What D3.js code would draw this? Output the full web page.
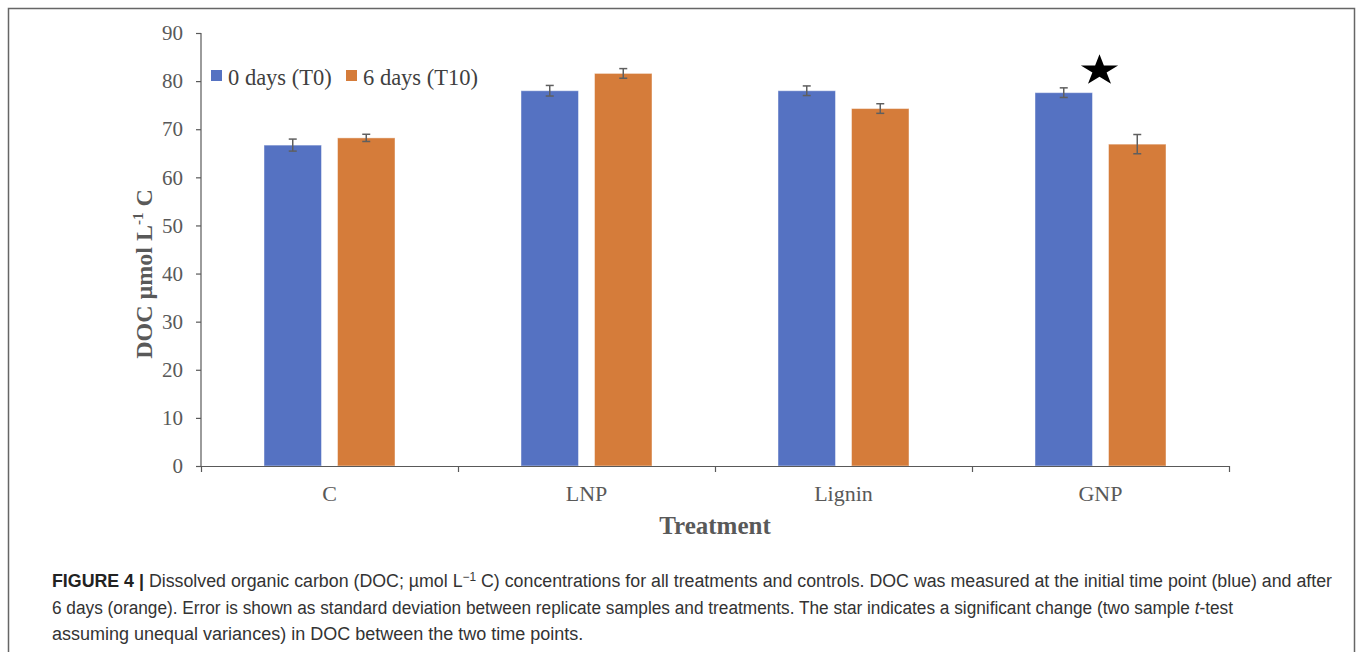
<!DOCTYPE html>
<head>
  <meta charset="utf-8">
  <script src="https://d3js.org/d3.v7.min.js"></script>
  <style>
    body { margin:0; background:white; }
    svg { display:block; }
    .tick text { font-family: "Liberation Serif", "Times New Roman", serif; font-size: 21px; fill: #595959; }
    .axis path, .axis line { stroke: #595959; stroke-width: 1.2; }
  </style>
</head>

<body>
  <script>
    // values
    var categories = ["C", "LNP", "Lignin", "GNP"];
    var seriesNames = ["0 days (T0)", "6 days (T10)"];
    var seriesColors = ["#5572c2", "#d57c3a"];
    var t0 = [66.7, 78.0, 78.0, 77.6];
    var t10 = [68.2, 81.6, 74.3, 66.9];
    var t0Err = [1.25, 1.1, 1.0, 1.0];
    var t10Err = [0.75, 1.0, 1.0, 2.0];
    var yTicks = [0, 10, 20, 30, 40, 50, 60, 70, 80, 90];
    var significant = ["GNP"];
    var starLevel = 82.2;

    var width = 1357, height = 652;
    var svg = d3.select("body").append("svg")
        .attr("width", width).attr("height", height);

    // frame around figure + caption
    svg.append("rect")
        .attr("x", 8.5).attr("y", 8.5)
        .attr("width", 1346).attr("height", 700)
        .attr("fill", "none").attr("stroke", "#666").attr("stroke-width", 1.5);

    var plotL = 201, plotR = 1229, plotT = 33, plotB = 466;

    var y = d3.scaleLinear().domain([0, 90]).range([plotB, plotT]);
    var x = d3.scaleBand().domain(categories).range([plotL, plotR]).padding(0);
    var xs = d3.scaleBand().domain([0, 1]).range([0, x.bandwidth()])
        .paddingInner(0.218).paddingOuter(0.857);
    var xEdge = d3.scaleLinear().domain([0, categories.length]).range([plotL, plotR]);

    var rows = categories.map(function(c, i) {
      return [
        {cat: c, s: 0, v: t0[i], e: t0Err[i]},
        {cat: c, s: 1, v: t10[i], e: t10Err[i]}
      ];
    });

    var groups = svg.selectAll("g.cat")
      .data(rows)
      .enter().append("g")
        .attr("class", "cat")
        .attr("transform", function(d) { return "translate(" + x(d[0].cat) + ",0)"; });

    groups.selectAll("rect")
      .data(function(d) { return d; })
      .enter().append("rect")
        .attr("x", function(d) { return xs(d.s); })
        .attr("width", xs.bandwidth())
        .attr("y", function(d) { return y(d.v); })
        .attr("height", function(d) { return y(0) - y(d.v); })
        .attr("fill", function(d) { return seriesColors[d.s]; })
        .attr("stroke", "rgba(255,255,255,0.45)")
        .attr("stroke-width", 1);

    // error bars
    var eb = groups.selectAll("g.err")
      .data(function(d) { return d; })
      .enter().append("g")
        .attr("class", "err")
        .attr("stroke", "#5f5f5f").attr("stroke-width", 1.5);
    eb.append("line")
        .attr("x1", function(d) { return xs(d.s) + xs.bandwidth() / 2; })
        .attr("x2", function(d) { return xs(d.s) + xs.bandwidth() / 2; })
        .attr("y1", function(d) { return y(d.v + d.e); })
        .attr("y2", function(d) { return y(d.v - d.e); });
    [1, -1].forEach(function(sg) {
      eb.append("line")
          .attr("x1", function(d) { return xs(d.s) + xs.bandwidth() / 2 - 4; })
          .attr("x2", function(d) { return xs(d.s) + xs.bandwidth() / 2 + 4; })
          .attr("y1", function(d) { return y(d.v + sg * d.e); })
          .attr("y2", function(d) { return y(d.v + sg * d.e); });
    });

    // axes
    svg.append("g")
        .attr("class", "axis")
        .attr("transform", "translate(" + plotL + ",0)")
        .call(d3.axisLeft(y).tickValues(yTicks).tickSize(5).tickSizeOuter(0).tickPadding(13))
        .call(function(g) { g.select(".domain").attr("d", "M0," + plotT + "V" + plotB); });

    svg.append("g")
        .attr("class", "axis")
        .attr("transform", "translate(0," + plotB + ")")
        .call(d3.axisBottom(xEdge).tickValues(d3.range(categories.length + 1))
          .tickFormat("").tickSize(6).tickSizeOuter(0));

    svg.selectAll("text.cat")
      .data(categories)
      .enter().append("text")
        .attr("class", "cat")
        .attr("x", function(d) { return x(d) + x.bandwidth() / 2; })
        .attr("y", 501)
        .attr("text-anchor", "middle")
        .style("font-family", "'Liberation Serif', serif")
        .style("font-size", "22px")
        .attr("fill", "#595959")
        .text(function(d) { return d; });

    // axis titles
    svg.append("text")
        .attr("x", (plotL + plotR) / 2).attr("y", 534)
        .attr("text-anchor", "middle")
        .style("font-family", "'Liberation Serif', serif")
        .style("font-size", "25px").style("font-weight", "bold")
        .attr("fill", "#595959")
        .text("Treatment");

    var yl = svg.append("text")
        .attr("transform", "translate(152,274) rotate(-90)")
        .attr("text-anchor", "middle")
        .style("font-family", "'Liberation Serif', serif")
        .style("font-size", "24px").style("font-weight", "bold")
        .attr("fill", "#595959");
    yl.append("tspan").text("DOC \u00b5mol L");
    yl.append("tspan").attr("dy", -9).style("font-size", "15px").text("-1");
    yl.append("tspan").attr("dy", 9).text(" C");

    // legend
    var legX = [211, 346];
    var leg = svg.selectAll("g.leg")
      .data(seriesNames)
      .enter().append("g")
        .attr("class", "leg")
        .attr("transform", function(d, i) { return "translate(" + legX[i] + ",70)"; });
    leg.append("rect")
        .attr("width", 11).attr("height", 11)
        .attr("fill", function(d, i) { return seriesColors[i]; });
    leg.append("text")
        .attr("x", 17).attr("y", 15)
        .style("font-family", "'Liberation Serif', serif")
        .style("font-size", "22.5px")
        .attr("fill", "#404040")
        .text(function(d) { return d; });

    // significance star
    svg.selectAll("path.star")
      .data(significant)
      .enter().append("path")
        .attr("class", "star")
        .attr("d", d3.symbol().type(d3.symbolStar).size(430))
        .attr("transform", function(d) {
          return "translate(" + (x(d) + x.bandwidth() / 2 - 1) + "," + y(starLevel) + ") scale(1,0.83)";
        })
        .attr("fill", "#000");

    // caption
    var capFont = "'Liberation Sans', Arial, sans-serif";
    var c1 = svg.append("text").attr("x", 52).attr("y", 587)
        .attr("textLength", 1280).attr("lengthAdjust", "spacingAndGlyphs")
        .style("font-family", capFont).style("font-size", "18px").attr("fill", "#333");
    c1.append("tspan").style("font-weight", "bold").attr("fill", "#222").text("FIGURE 4 | ");
    c1.append("tspan").text("Dissolved organic carbon (DOC; \u00b5mol L");
    c1.append("tspan").attr("dy", -6).style("font-size", "12px").text("\u22121");
    c1.append("tspan").attr("dy", 6).text(" C) concentrations for all treatments and controls. DOC was measured at the initial time point (blue) and after");

    var c2 = svg.append("text").attr("x", 52).attr("y", 614)
        .attr("textLength", 1181).attr("lengthAdjust", "spacingAndGlyphs")
        .style("font-family", capFont).style("font-size", "18px").attr("fill", "#333");
    c2.append("tspan").text("6 days (orange). Error is shown as standard deviation between replicate samples and treatments. The star indicates a significant change (two sample ");
    c2.append("tspan").style("font-style", "italic").text("t");
    c2.append("tspan").text("-test");

    svg.append("text").attr("x", 52).attr("y", 640)
        .style("font-family", capFont).style("font-size", "18px").attr("fill", "#333")
        .text("assuming unequal variances) in DOC between the two time points.");
  </script>
</body>
